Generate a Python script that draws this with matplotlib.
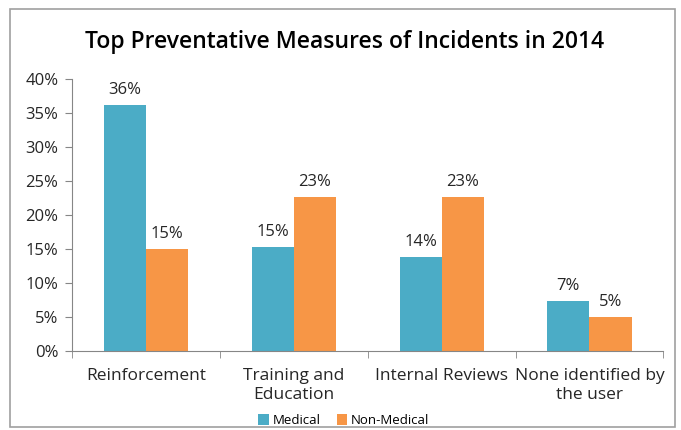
import numpy as np
import matplotlib.pyplot as plt
from matplotlib.patches import Rectangle

categories = ['Reinforcement', 'Training and\nEducation', 'Internal Reviews', 'None identified by\nthe user']
medical = [36.2, 15.3, 13.8, 7.3]
non_medical = [15.0, 22.6, 22.6, 5.0]
medical_labels = ['36%', '15%', '14%', '7%']
non_medical_labels = ['15%', '23%', '23%', '5%']

plt.rcParams['font.family'] = ['Open Sans', 'DejaVu Sans']

fig = plt.figure(figsize=(6.81, 4.30), dpi=100)
ax = fig.add_axes([0.106, 0.184, 0.868, 0.632])

x = np.arange(len(categories))
w = 0.285
b1 = ax.bar(x - w / 2, medical, w, color='#4BACC6', label='Medical')
b2 = ax.bar(x + w / 2, non_medical, w, color='#F79646', label='Non-Medical')
ax.bar_label(b1, labels=medical_labels, padding=5, fontsize=12, color='#262626')
ax.bar_label(b2, labels=non_medical_labels, padding=5, fontsize=12, color='#262626')

ax.set_xlim(-0.5, 3.5)
ax.set_ylim(0, 40)
ax.set_yticks(range(0, 41, 5))
ax.set_yticklabels([f'{v}%' for v in range(0, 41, 5)], fontsize=12, color='#262626')
ax.set_xticks(x)
ax.set_xticklabels(categories, fontsize=12.5, color='#262626', linespacing=1.25)
ax.set_xticks(np.arange(-0.5, 4, 1), minor=True)
ax.tick_params(axis='x', which='major', length=0, pad=12)
ax.tick_params(axis='x', which='minor', length=5, color='#868686')
ax.tick_params(axis='y', length=5, color='#868686', pad=5)
for s in ['top', 'right']:
    ax.spines[s].set_visible(False)
for s in ['left', 'bottom']:
    ax.spines[s].set_color('#868686')

fig.text(0.506, 0.902, 'Top Preventative Measures of Incidents in 2014', ha='center', va='center',
         fontsize=16.5, fontweight='semibold', color='black')

fig.legend(loc='center', bbox_to_anchor=(0.505, 0.022), ncol=2, frameon=False, fontsize=9.5,
           handlelength=0.8, handleheight=0.8, handletextpad=0.3, columnspacing=1.2)

fig.patches.append(Rectangle((10 / 681, 3 / 430), 665 / 681, 418 / 430, transform=fig.transFigure,
                             fill=False, edgecolor='#A0A0A0', linewidth=1.2))

fig.savefig('out.png', dpi=100)
